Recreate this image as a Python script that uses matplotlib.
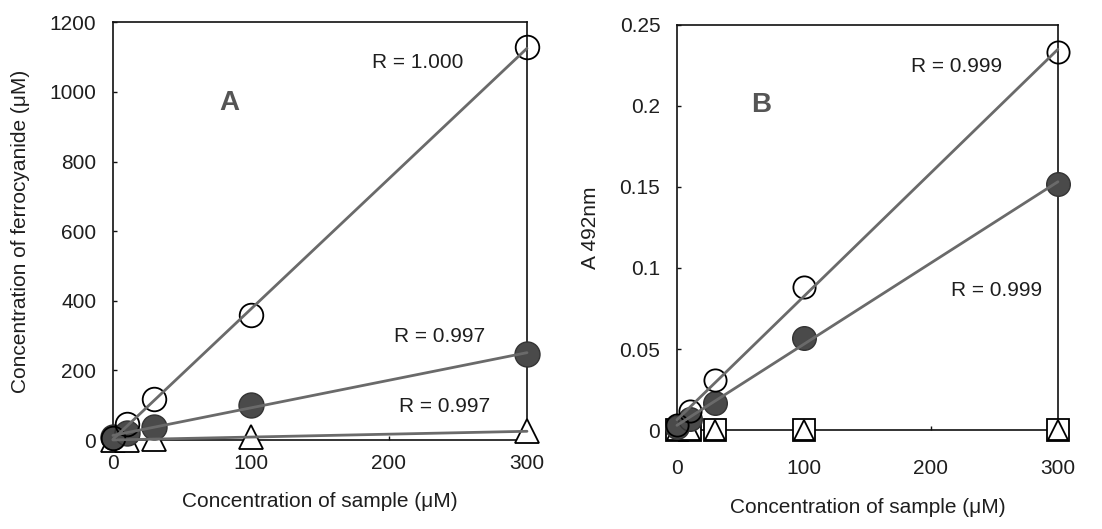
import numpy as np
import matplotlib
matplotlib.use("Agg")
import matplotlib.pyplot as plt

plt.rcParams['font.family'] = ['Liberation Sans', 'DejaVu Sans']

# ---- data ----
x_sample = [0, 10, 30, 100, 300]

# Panel A: concentration of ferrocyanide (uM)
a_open = [5, 45, 118, 360, 1130]
a_filled = [8, 20, 38, 102, 248]
a_tri = [0, 1, 3, 10, 25]
a_r_labels = ["R = 1.000", "R = 0.997", "R = 0.997"]

# Panel B: A 492nm
b_open = [0.003, 0.012, 0.031, 0.088, 0.233]
b_filled = [0.002, 0.007, 0.017, 0.057, 0.152]
b_square = [0.0, 0.0, 0.0, 0.0, 0.0]
b_tri = [0.0, 0.0, 0.0, 0.0, 0.0]
b_r_labels = ["R = 0.999", "R = 0.999"]

a_yticks = [0, 200, 400, 600, 800, 1000, 1200]
b_yticks = [0, 0.05, 0.1, 0.15, 0.2, 0.25]
b_yticklabels = ["0", "0.05", "0.1", "0.15", "0.2", "0.25"]
x_ticks = [0, 100, 200, 300]

TXT = '#1e1e1e'
LINE = '#6a6a6a'
FILL = '#4a4a4a'
FS = 15

fig = plt.figure(figsize=(11.02, 5.29), dpi=100)
axA = fig.add_axes([0.1025, 0.168, 0.3757, 0.790])
axB = fig.add_axes([0.6143, 0.187, 0.3457, 0.766])

xs = np.array(x_sample, dtype=float)
xfit = np.array([0.0, 300.0])


def fitline(ax, y, color=LINE, lw=2.0):
    p = np.polyfit(xs, np.array(y, dtype=float), 1)
    ax.plot(xfit, np.polyval(p, xfit), color=color, lw=lw, zorder=5,
            solid_capstyle='round', clip_on=False)


def style(ax, xpad):
    for s in ax.spines.values():
        s.set_linewidth(1.2)
        s.set_color('#111111')
    ax.tick_params(direction='in', length=3, width=1, labelsize=FS,
                   labelcolor=TXT, colors='#111111')
    ax.tick_params(axis='y', pad=12)
    ax.tick_params(axis='x', pad=xpad)
    ax.set_xlim(0, 300)
    ax.set_xticks(x_ticks)


ms = 17
# Panel A
axA.plot(xs, a_tri, linestyle='none', marker='^', ms=ms, mfc='white', mec='black',
         mew=1.3, zorder=3, clip_on=False)
axA.plot(xs, a_filled, linestyle='none', marker='o', ms=18, mfc=FILL, mec='#333333',
         mew=1.0, zorder=4, clip_on=False)
axA.plot(xs, a_open, linestyle='none', marker='o', ms=ms, mfc='none', mec='black',
         mew=1.3, zorder=4, clip_on=False)
fitline(axA, a_open)
fitline(axA, a_filled)
fitline(axA, a_tri)
style(axA, 10)
axA.set_ylim(0, 1200)
axA.set_yticks(a_yticks)
axA.set_xlabel("Concentration of sample (μM)", fontsize=FS, color=TXT, labelpad=14)
axA.set_ylabel("Concentration of ferrocyanide (μM)", fontsize=FS, color=TXT, labelpad=14)
axA.text(0.282, 0.806, "A", transform=axA.transAxes, fontsize=20, fontweight='bold',
         color='#555555', ha='center', va='center')
axA.text(0.737, 0.904, a_r_labels[0], transform=axA.transAxes, fontsize=FS,
         color=TXT, ha='center', va='center')
axA.text(0.79, 0.247, a_r_labels[1], transform=axA.transAxes, fontsize=FS,
         color=TXT, ha='center', va='center')
axA.text(0.80, 0.08, a_r_labels[2], transform=axA.transAxes, fontsize=FS,
         color=TXT, ha='center', va='center')

# Panel B
axB.plot(xs, b_square, linestyle='none', marker='s', ms=16, mfc='white', mec='black',
         mew=1.3, zorder=3, clip_on=False)
axB.plot(xs, b_tri, linestyle='none', marker='^', ms=14, mfc='white', mec='black',
         mew=1.3, zorder=3, clip_on=False)
axB.plot(xs, b_filled, linestyle='none', marker='o', ms=17, mfc=FILL, mec='#333333',
         mew=1.0, zorder=4, clip_on=False)
axB.plot(xs, b_open, linestyle='none', marker='o', ms=16, mfc='none', mec='black',
         mew=1.3, zorder=4, clip_on=False)
fitline(axB, b_open)
fitline(axB, b_filled)
style(axB, 21)
axB.set_ylim(0, 0.25)
axB.set_yticks(b_yticks)
axB.set_yticklabels(b_yticklabels)
axB.set_xlabel("Concentration of sample (μM)", fontsize=FS, color=TXT, labelpad=14)
axB.set_ylabel("A 492nm", fontsize=FS, color=TXT, labelpad=14)
axB.text(0.22, 0.802, "B", transform=axB.transAxes, fontsize=20, fontweight='bold',
         color='#555555', ha='center', va='center')
axB.text(0.735, 0.898, b_r_labels[0], transform=axB.transAxes, fontsize=FS,
         color=TXT, ha='center', va='center')
axB.text(0.84, 0.345, b_r_labels[1], transform=axB.transAxes, fontsize=FS,
         color=TXT, ha='center', va='center')

fig.savefig("out.png", dpi=100)
